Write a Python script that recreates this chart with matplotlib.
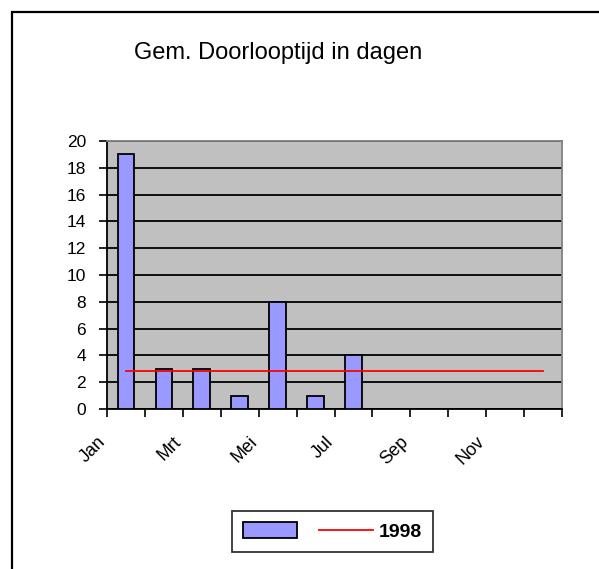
import numpy as np
import matplotlib
matplotlib.use("Agg")
import matplotlib.pyplot as plt
import matplotlib.transforms as mtransforms
from matplotlib.patches import Rectangle, Patch
from matplotlib.lines import Line2D

months = ["Jan", "Feb", "Mrt", "Apr", "Mei", "Jun", "Jul", "Aug", "Sep", "Okt", "Nov", "Dec"]
values = [19, 3, 3, 1, 8, 1, 4, np.nan, np.nan, np.nan, np.nan, np.nan]
norm_value = 2.8
title = "Gem. Doorlooptijd in dagen"
series_label = "1998"
y_ticks = list(range(0, 21, 2))

plt.rcParams['font.family'] = ['Liberation Sans', 'DejaVu Sans']

W, H = 599, 569
fig = plt.figure(figsize=(W / 100, H / 100), dpi=100)
fig.patch.set_facecolor("white")

# outer frame
fig.add_artist(Rectangle((12 / W, -0.1), 1.2, (H - 12) / H + 0.1, transform=fig.transFigure,
                         fill=False, edgecolor="black", linewidth=1.6))

ax = fig.add_axes([107 / W, (H - 409) / H, 455 / W, 268 / H])
ax.set_facecolor("#C0C0C0")

x = np.arange(len(months))
ax.bar(x, values, width=0.44, color="#9999FF", edgecolor="black", linewidth=1.3, zorder=3)
ax.plot([x[0], x[-1]], [norm_value, norm_value], color="red", linewidth=1.3, zorder=4)

ax.set_xlim(-0.5, len(months) - 0.5)
ax.set_ylim(0, 20)
ax.set_yticks(y_ticks)
ax.set_yticklabels([str(t) for t in y_ticks], fontsize=12.5)
ax.yaxis.grid(True, color="black", linewidth=1.3, zorder=1)
ax.set_axisbelow(True)

ax.set_xticks(np.arange(len(months) + 1) - 0.5)
ax.set_xticklabels([])
ax.tick_params(axis="x", length=6, width=1.2, color="black")
ax.tick_params(axis="y", length=6, width=1.2, color="black", pad=9)

for i in range(0, len(months), 2):
    ax.text(x[i], -0.0, months[i], rotation=45, ha="right", va="top", fontsize=13,
            transform=mtransforms.blended_transform_factory(ax.transData, ax.transAxes)
            + mtransforms.ScaledTranslation(-17 / 100, -24 / 100, fig.dpi_scale_trans))

for s in ["left", "bottom"]:
    ax.spines[s].set_color("black")
    ax.spines[s].set_linewidth(1.3)
for s in ["top", "right"]:
    ax.spines[s].set_color("#808080")
    ax.spines[s].set_linewidth(1.3)

fig.text(278 / W, 1 - 53 / H, title, ha="center", va="center", fontsize=17)

handles = [Patch(facecolor="#9999FF", edgecolor="black", linewidth=1.3, label=" "),
           Line2D([0], [0], color="red", linewidth=1.3, label=series_label)]
leg = fig.legend(handles=handles, labels=["", series_label], loc="center",
                 bbox_to_anchor=(332.5 / W, 1 - 531.5 / H), ncol=2, frameon=True,
                 fancybox=False, edgecolor="black", handlelength=2.8, handleheight=0.9,
                 columnspacing=0.8, handletextpad=0.3, borderpad=0.58, borderaxespad=0,
                 prop={"weight": "bold", "size": 14})
leg.get_frame().set_linewidth(1.3)

fig.savefig("out.png", dpi=100)
